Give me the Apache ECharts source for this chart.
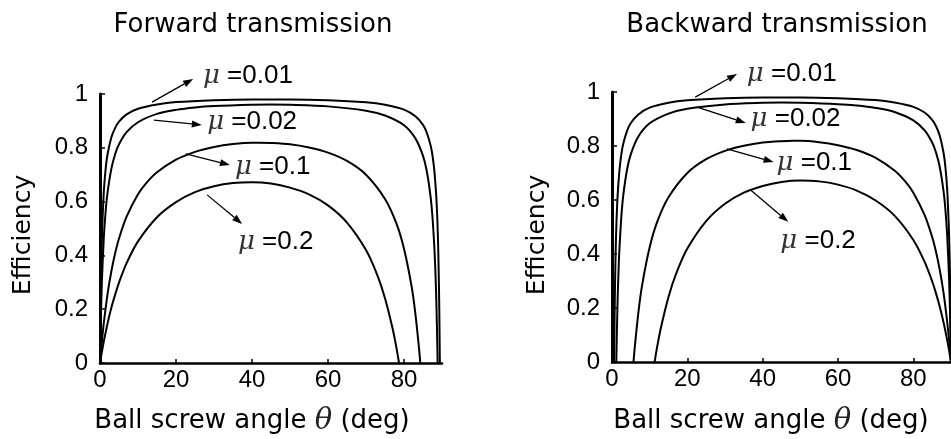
<!DOCTYPE html>
<html><head><meta charset="utf-8">
<script src="https://cdn.jsdelivr.net/npm/echarts@6/dist/echarts.min.js"></script>
<style>html,body{margin:0;padding:0;background:#fff}#c{width:951px;height:439px}</style>
</head><body><div id="c"></div>
<script>
// ---------- data (angle in deg, efficiency) ----------
const fwdTheta001 = [0, 0.1, 0.25, 0.5, 1, 1.5, 2, 3, 4, 5, 7, 10, 15, 20, 30, 40, 45, 50, 60, 70, 75, 80, 83, 85, 86, 87, 87.5, 88, 88.5, 88.8, 89, 89.2, 89.3, 89.4, 89.43];
const fwdEta001   = [0, 0.149, 0.304, 0.466, 0.636, 0.724, 0.777, 0.839, 0.874, 0.897, 0.924, 0.945, 0.961, 0.970, 0.977, 0.980, 0.980, 0.980, 0.977, 0.969, 0.960, 0.942, 0.917, 0.885, 0.856, 0.809, 0.771, 0.713, 0.618, 0.523, 0.427, 0.284, 0.182, 0.045, 0];

const fwdTheta002 = [0, 0.1, 0.25, 0.5, 1, 1.5, 2, 3, 4, 5, 7, 10, 15, 20, 25, 30, 40, 45, 50, 60, 70, 75, 80, 83, 85, 86, 87, 87.5, 88, 88.2, 88.5, 88.8, 88.85];
const fwdEta002   = [0, 0.080, 0.179, 0.304, 0.466, 0.567, 0.635, 0.723, 0.777, 0.813, 0.858, 0.895, 0.926, 0.941, 0.950, 0.955, 0.960, 0.961, 0.960, 0.954, 0.938, 0.920, 0.884, 0.835, 0.770, 0.713, 0.618, 0.542, 0.427, 0.363, 0.236, 0.045, 0];

const fwdTheta01 = [0, 0.25, 0.5, 1, 2, 3, 4, 5, 7, 10, 12, 15, 20, 25, 30, 35, 40, 42, 45, 50, 55, 60, 65, 70, 75, 78, 80, 82, 83, 84, 84.29];
const fwdEta01   = [0, 0.042, 0.080, 0.148, 0.258, 0.342, 0.409, 0.463, 0.544, 0.627, 0.666, 0.709, 0.756, 0.785, 0.803, 0.814, 0.819, 0.819, 0.818, 0.813, 0.801, 0.782, 0.751, 0.700, 0.610, 0.519, 0.425, 0.285, 0.183, 0.048, 0];

const fwdTheta02 = [0, 0.5, 1, 2, 3, 4, 5, 7, 10, 15, 20, 25, 30, 35, 40, 45, 50, 55, 60, 65, 70, 73, 75, 77, 78, 78.69];
const fwdEta02   = [0, 0.042, 0.080, 0.148, 0.206, 0.255, 0.299, 0.371, 0.452, 0.542, 0.598, 0.635, 0.657, 0.669, 0.672, 0.667, 0.652, 0.627, 0.586, 0.522, 0.420, 0.326, 0.241, 0.128, 0.057, 0];

const bwdTheta001 = [0.57, 0.6, 0.7, 0.8, 1, 1.2, 1.5, 2, 2.5, 3, 4, 5, 7, 10, 15, 20, 30, 40, 45, 50, 60, 70, 75, 80, 83, 85, 86, 87, 88, 88.5, 89, 89.5, 89.75, 89.9, 90];
const bwdEta001   = [0, 0.045, 0.182, 0.284, 0.427, 0.523, 0.618, 0.713, 0.771, 0.809, 0.856, 0.885, 0.917, 0.942, 0.960, 0.969, 0.977, 0.980, 0.980, 0.980, 0.977, 0.970, 0.961, 0.945, 0.924, 0.897, 0.874, 0.839, 0.777, 0.724, 0.636, 0.466, 0.304, 0.149, 0];

const bwdTheta002 = [1.15, 1.2, 1.5, 1.8, 2, 2.5, 3, 4, 5, 7, 10, 15, 20, 30, 40, 45, 50, 60, 65, 70, 75, 80, 83, 85, 86, 87, 88, 88.5, 89, 89.5, 89.75, 89.9, 90];
const bwdEta002   = [0, 0.045, 0.236, 0.363, 0.427, 0.542, 0.618, 0.713, 0.770, 0.835, 0.884, 0.920, 0.938, 0.954, 0.960, 0.961, 0.960, 0.955, 0.950, 0.941, 0.926, 0.895, 0.858, 0.813, 0.777, 0.723, 0.635, 0.567, 0.466, 0.304, 0.179, 0.080, 0];

const bwdTheta01 = [5.71, 6, 7, 8, 10, 12, 15, 20, 25, 30, 35, 40, 45, 48, 50, 55, 60, 65, 70, 75, 78, 80, 83, 85, 86, 87, 88, 89, 89.5, 89.75, 90];
const bwdEta01   = [0, 0.048, 0.183, 0.285, 0.425, 0.519, 0.610, 0.700, 0.751, 0.782, 0.801, 0.813, 0.818, 0.819, 0.819, 0.814, 0.803, 0.785, 0.756, 0.709, 0.666, 0.627, 0.544, 0.463, 0.409, 0.342, 0.258, 0.148, 0.080, 0.042, 0];

const bwdTheta02 = [11.31, 12, 13, 15, 17, 20, 25, 30, 35, 40, 45, 50, 55, 60, 65, 70, 75, 80, 83, 85, 86, 87, 88, 89, 89.5, 90];
const bwdEta02   = [0, 0.057, 0.128, 0.241, 0.326, 0.420, 0.522, 0.586, 0.627, 0.652, 0.667, 0.672, 0.669, 0.657, 0.635, 0.598, 0.542, 0.452, 0.371, 0.299, 0.255, 0.206, 0.148, 0.080, 0.042, 0];

// annotation texts and their data-space anchors
const muLabels = ['0.01', '0.02', '0.1', '0.2'];
const fwdArrowFrom = [[13.7, 0.970], [14.2, 0.903], [22.6, 0.777], [28.2, 0.625]];
const fwdArrowTo   = [[24.5, 1.056], [26.8, 0.885], [34.2, 0.736], [37.4, 0.517]];
const fwdLabelAt   = [[27.1, 1.067], [28.2, 0.896], [35.5, 0.729], [36.3, 0.450]];
const bwdArrowFrom = [[22.1, 0.981], [22.6, 0.944], [30.5, 0.789], [36.8, 0.637]];
const bwdArrowTo   = [[33.2, 1.067], [35.5, 0.885], [42.9, 0.741], [46.8, 0.519]];
const bwdLabelAt   = [[35.8, 1.067], [36.8, 0.900], [43.7, 0.737], [44.7, 0.448]];

const panelTitles = ['Forward transmission', 'Backward transmission'];

// ---------- chart ----------
const zip = (a, b) => a.map((v, i) => [v, b[i]]);
const chart = echarts.init(document.getElementById('c'), null, {renderer: 'canvas'});

const tickFont = {fontFamily: 'Liberation Sans', fontSize: 24, color: '#000'};
function xAxis(gi) {
  return {
    type: 'value', gridIndex: gi, min: 0, max: 90, interval: 20,
    axisLine: {show: true, onZero: false, lineStyle: {color: '#000', width: 2.5}},
    axisTick: {show: true, inside: true, length: 4, lineStyle: {color: '#000', width: 1.5}},
    axisLabel: Object.assign({margin: 5, showMaxLabel: false}, tickFont),
    splitLine: {show: false}
  };
}
function yAxis(gi) {
  return {
    type: 'value', gridIndex: gi, min: 0, max: 1, interval: 0.2,
    axisLine: {show: true, onZero: false, lineStyle: {color: '#000', width: 3}},
    axisTick: {show: true, inside: true, length: 5, lineStyle: {color: '#000', width: 1.5}},
    axisLabel: Object.assign({margin: 12}, tickFont),
    splitLine: {show: false}
  };
}
function line(gi, th, eta) {
  return {
    type: 'line', xAxisIndex: gi, yAxisIndex: gi, data: zip(th, eta),
    showSymbol: false, symbol: 'none', smooth: 0.3, clip: false,
    lineStyle: {color: '#000', width: 2}, silent: true
  };
}

chart.setOption({
  animation: false,
  backgroundColor: '#fff',
  grid: [
    {left: 100, top: 94, width: 342, height: 269},
    {left: 612, top: 92, width: 342, height: 270}
  ],
  xAxis: [xAxis(0), xAxis(1)],
  yAxis: [yAxis(0), yAxis(1)],
  series: [
    line(0, fwdTheta001, fwdEta001), line(0, fwdTheta002, fwdEta002),
    line(0, fwdTheta01, fwdEta01), line(0, fwdTheta02, fwdEta02),
    line(1, bwdTheta001, bwdEta001), line(1, bwdTheta002, bwdEta002),
    line(1, bwdTheta01, bwdEta01), line(1, bwdTheta02, bwdEta02)
  ]
});

// ---------- annotations ----------
const graphics = [];
const textFont = 'DejaVu Sans';
const titleX = [253, 777];
const axisNameX = [252, 771];
const yNameX = [23, 537];
for (let i = 0; i < 2; i++) {
  graphics.push({type: 'text', x: titleX[i], y: 25, style: {text: panelTitles[i], font: '26px "DejaVu Sans"', fill: '#000', align: 'center', verticalAlign: 'middle'}});
  graphics.push({type: 'text', x: axisNameX[i], y: 421, style: {
    text: '{a|Ball screw angle }{t|θ}{a| (deg)}', align: 'center', verticalAlign: 'middle',
    rich: {a: {fontFamily: textFont, fontSize: 26, fill: '#000'}, t: {fontFamily: 'DejaVu Serif', fontStyle: 'italic', fontSize: 29, fill: '#222'}}
  }});
  graphics.push({type: 'text', x: yNameX[i], y: 235, rotation: Math.PI / 2, style: {text: 'Efficiency', font: '25px "DejaVu Sans"', fill: '#000', align: 'center', verticalAlign: 'middle'}});
}

function arrow(gi, from, to) {
  const p1 = chart.convertToPixel({gridIndex: gi}, from);
  const p2 = chart.convertToPixel({gridIndex: gi}, to);
  const ang = Math.atan2(p2[1] - p1[1], p2[0] - p1[0]);
  const L = 10, W = 3.5;
  const bx = p2[0] - L * Math.cos(ang), by = p2[1] - L * Math.sin(ang);
  const nx = -Math.sin(ang) * W, ny = Math.cos(ang) * W;
  graphics.push({type: 'line', shape: {x1: p1[0], y1: p1[1], x2: bx, y2: by}, style: {stroke: '#000', lineWidth: 1.3}, z: 10});
  graphics.push({type: 'polygon', shape: {points: [[p2[0], p2[1]], [bx + nx, by + ny], [bx - nx, by - ny]]}, style: {fill: '#000'}, z: 10});
}
function muText(gi, at, val) {
  const p = chart.convertToPixel({gridIndex: gi}, at);
  graphics.push({type: 'text', x: p[0], y: p[1], z: 10, style: {
    text: '{m|μ}{t| =' + val + '}', align: 'left', verticalAlign: 'middle',
    rich: {m: {fontFamily: 'DejaVu Serif', fontStyle: 'italic', fontSize: 26, fill: '#333'},
           t: {fontFamily: 'Liberation Sans', fontSize: 26, fill: '#000'}}
  }});
}
for (let k = 0; k < 4; k++) {
  arrow(0, fwdArrowFrom[k], fwdArrowTo[k]);
  muText(0, fwdLabelAt[k], muLabels[k]);
  arrow(1, bwdArrowFrom[k], bwdArrowTo[k]);
  muText(1, bwdLabelAt[k], muLabels[k]);
}
chart.setOption({graphic: graphics});
</script>
</body></html>
